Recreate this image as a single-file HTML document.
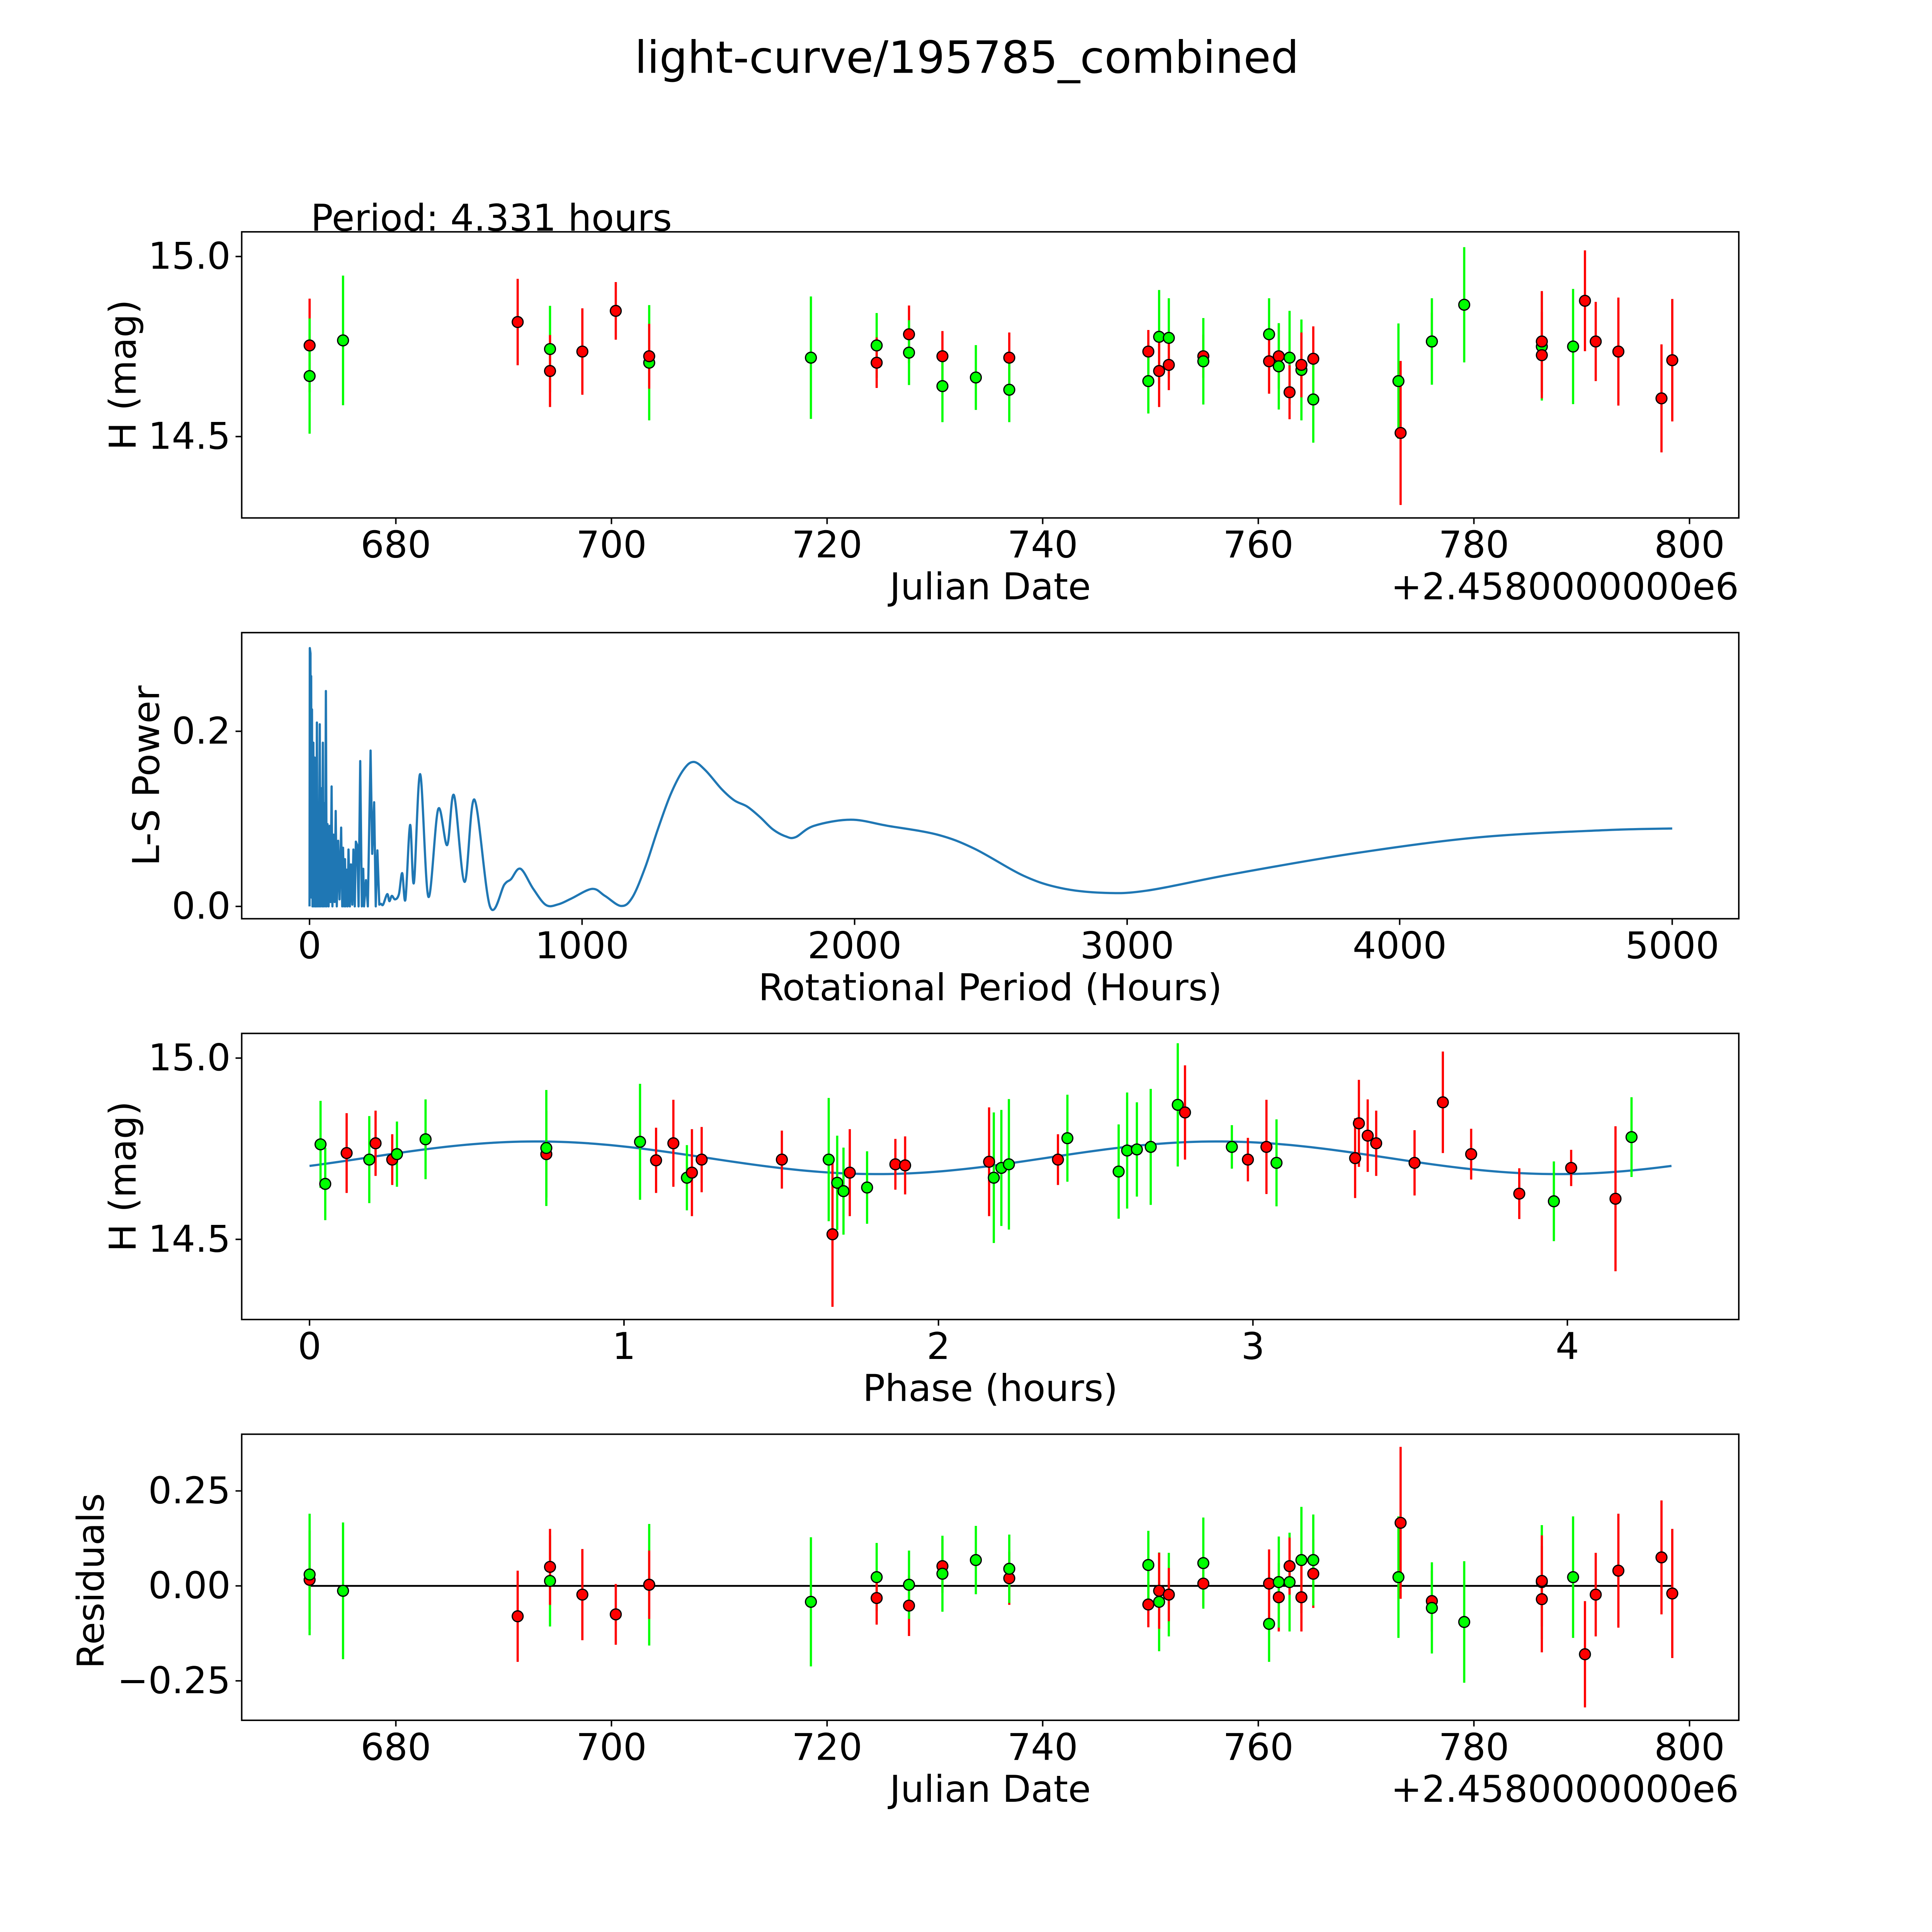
<!DOCTYPE html>
<html><head><meta charset="utf-8"><style>
html,body{margin:0;padding:0;background:#fff;overflow:hidden;width:5400px;height:5400px}
svg{display:block}
text{font-family:"DejaVu Sans","Liberation Sans",sans-serif;fill:#000}
</style></head><body>
<svg id="fig" xmlns="http://www.w3.org/2000/svg" width="5400" height="5400" viewBox="0 0 1692 1692">
<rect x="0" y="0" width="1692" height="1692" fill="#fff"/>
<text x="784" y="59" font-size="36" text-anchor="middle">light-curve/195785_combined</text>
<text x="252" y="187" font-size="30">Period: 4.331 hours</text>
<g id="p1"></g>
<g id="p2"></g>
<g id="p3"></g>
<g id="p4"></g>
</svg>
<script>
// ---- light curve data ----
const dates = [672.0,672.0,675.1,691.3,694.3,694.3,697.3,700.4,703.5,703.5,718.5,724.6,724.6,727.6,727.6,730.7,730.7,733.8,736.9,736.9,749.8,749.8,750.8,750.8,751.7,751.7,754.9,754.9,761.0,761.0,761.9,761.9,762.9,762.9,764.0,764.0,765.1,765.1,773.0,773.2,776.1,776.1,779.1,786.3,786.3,786.3,789.2,790.3,791.3,793.4,797.4,798.4];
const mags = [14.753,14.668,14.767,14.818,14.743,14.682,14.736,14.849,14.705,14.723,14.719,14.753,14.705,14.784,14.733,14.723,14.640,14.664,14.719,14.630,14.736,14.654,14.777,14.682,14.774,14.699,14.723,14.709,14.784,14.709,14.723,14.695,14.719,14.623,14.685,14.699,14.716,14.603,14.654,14.510,14.764,14.764,14.866,14.750,14.726,14.764,14.750,14.877,14.764,14.736,14.606,14.712];
const errs = [0.13,0.16,0.18,0.12,0.12,0.10,0.12,0.08,0.16,0.09,0.17,0.09,0.07,0.08,0.09,0.07,0.10,0.09,0.07,0.09,0.06,0.09,0.13,0.10,0.11,0.07,0.06,0.12,0.10,0.09,0.09,0.12,0.13,0.075,0.14,0.09,0.09,0.12,0.16,0.20,0.08,0.12,0.16,0.15,0.12,0.14,0.16,0.14,0.11,0.15,0.15,0.17];
const colors = ['r','g','g','r','g','r','r','r','g','r','g','g','r','r','g','r','g','g','r','g','r','g','g','r','g','r','r','g','g','r','r','g','g','r','g','r','r','g','g','r','r','g','g','g','r','r','g','r','r','r','r','r'];
const residuals = [0.016,0.03,-0.013,-0.08,0.013,0.05,-0.023,-0.075,0.003,0.003,-0.042,0.023,-0.032,-0.052,0.003,0.052,0.032,0.068,0.02,0.045,-0.049,0.055,-0.042,-0.013,-0.023,-0.023,0.006,0.06,-0.1,0.006,-0.03,0.01,0.01,0.052,0.068,-0.03,0.032,0.068,0.023,0.166,-0.04,-0.058,-0.095,0.01,0.013,-0.035,0.023,-0.18,-0.023,0.04,0.075,-0.02];
// ---- phase-folded data ----
const phases = [0.035,0.05,0.118,0.19,0.21,0.263,0.278,0.369,0.753,0.753,1.051,1.102,1.157,1.2,1.216,1.247,1.502,1.651,1.663,1.678,1.698,1.718,1.773,1.863,1.894,2.161,2.176,2.2,2.224,2.38,2.41,2.573,2.6,2.631,2.675,2.761,2.784,2.933,2.984,3.043,3.075,3.325,3.337,3.365,3.392,3.514,3.604,3.694,3.847,3.957,4.012,4.153,4.204];
const phaseMags = [14.762,14.653,14.738,14.72,14.765,14.72,14.735,14.776,14.735,14.752,14.769,14.718,14.765,14.67,14.684,14.72,14.72,14.72,14.514,14.656,14.633,14.684,14.643,14.707,14.704,14.714,14.67,14.697,14.707,14.72,14.779,14.687,14.745,14.748,14.755,14.871,14.85,14.755,14.72,14.755,14.711,14.724,14.82,14.786,14.765,14.711,14.878,14.735,14.626,14.605,14.697,14.612,14.782];
const phaseErrs = [0.12,0.10,0.11,0.12,0.09,0.07,0.09,0.11,0.12,0.16,0.16,0.09,0.12,0.09,0.12,0.09,0.08,0.17,0.2,0.13,0.12,0.12,0.10,0.07,0.08,0.15,0.18,0.16,0.18,0.07,0.12,0.13,0.16,0.13,0.16,0.17,0.13,0.06,0.06,0.13,0.12,0.11,0.12,0.10,0.09,0.09,0.14,0.07,0.07,0.11,0.05,0.2,0.11];
const phaseColors = ['g','g','r','g','r','r','g','g','r','g','g','r','r','g','r','r','r','g','r','g','g','r','g','r','r','r','g','g','g','r','g','g','g','g','g','g','r','g','r','r','g','r','r','r','r','r','r','r','r','g','r','r','g'];
const modelParams = [14.725, 0.045, 0.18, 2.1655]; // mean, amplitude, phase offset, half period
// ---- periodogram data ----
const lsPeriods = [
 0,1,3.5,5,6,7.5,9,11,14,16,
 19,21,23,25,27,30,33,35,37.5,40,
 43,46,49,51,54,57,60,63,66,70,
 74,77,81,84,88,92,96,100,105,110,
 116,120,123,127,130,133,136,140,143,148,
 152,157,161,166,170,175,180,186,192,197,
 200,207,214,224,230,237,243,249,256,262,
 270,285,293,302,314,328,340,352,369,383,406,
 436,472,505,530,569,605,662,715,739,774,
 821,868,914,961,1037,1084,1143,1184,1231,1278,
 1325,1372,1410,1454,1512,1559,1606,1653,1700,1747,
 1783,1851,1986,2122,2303,2439,2620,2756,2914,3072,
 3389,3842,4294,4747,5000];
const lsPowers = [
 0,0.295,0.289,0.02,0.263,0.01,0.225,0,0.187,0,
 0.17,0,0.115,0,0.21,0,0.118,0,0.208,0,
 0.135,0,0.187,0,0.118,0,0.246,0,0.094,0,
 0.092,0.005,0.137,0,0.082,0.005,0.109,0,0.075,0.008,
 0.09,0,0.067,0,0.054,0,0.042,0,0.065,0,
 0.048,0.002,0.065,0,0.074,0.07,0,0.166,0,0.043,
 0,0.03,0,0.178,0.06,0.119,0,0.064,0.002,0.003,
 0.002,0.014,0.006,0.012,0.008,0.014,0.038,0.008,0.093,0.027,0.151,
 0.011,0.111,0.07,0.127,0.028,0.122,0,0.025,0.031,0.043,
 0.02,0.0015,0.0025,0.009,0.02,0.012,0.0005,0.01,0.044,0.088,
 0.128,0.156,0.165,0.155,0.134,0.121,0.114,0.102,0.088,0.08,
 0.079,0.092,0.099,0.092,0.082,0.066,0.035,0.021,0.0155,0.018,
 0.037,0.061,0.079,0.087,0.089];

const NS='http://www.w3.org/2000/svg';
function mk(parent, tag, attrs){const e=document.createElementNS(NS,tag);for(const k in attrs)e.setAttribute(k,attrs[k]);parent.appendChild(e);return e;}
const COL={r:'#ff0000',g:'#00ff00'};
const X0=196,X1=1410,FS=30;
function axisFrame(g,top,bot){
  const r=mk(g,'rect',{x:X0,y:top,width:X1-X0,height:bot-top,fill:'none',stroke:'#000','stroke-width':1.2});
  
  
}
function xTicks(g,bot,vals,fx,labels){
  vals.forEach((v,i)=>{const x=fx(v);
    const t=mk(g,'line',{x1:x,x2:x,y1:bot,y2:bot+5,stroke:'#000','stroke-width':1.2});
    
    
    const l=mk(g,'text',{x:x,y:bot+32,'font-size':FS,'text-anchor':'middle'});l.textContent=labels[i];
    
    });
}
function yTicks(g,vals,fy,labels){
  vals.forEach((v,i)=>{const y=fy(v);
    const t=mk(g,'line',{x1:X0-5,x2:X0,y1:y,y2:y,stroke:'#000','stroke-width':1.2});
    
    
    const l=mk(g,'text',{x:X0-9,y:y+10,'font-size':FS,'text-anchor':'end'});l.textContent=labels[i];
    
    });
}
function label(g,txt,x,y,rot,name){
  const l=mk(g,'text',{x:x,y:y,'font-size':FS,'text-anchor':'middle'});
  if(rot)l.setAttribute('transform','rotate(-90 '+x+' '+y+')');
  l.textContent=txt;
  
  
}
function points(g,xs,ys,es,cs,fx,fy,fe){
  xs.forEach((v,i)=>{const x=fx(v),y=fy(ys[i]);const e=fe(es[i]);
    const b=mk(g,'line',{x1:x,x2:x,y1:y-e,y2:y+e,stroke:COL[cs[i]],'stroke-width':1.8});
    
    });
  xs.forEach((v,i)=>{const x=fx(v),y=fy(ys[i]);
    const c=mk(g,'circle',{cx:x,cy:y,r:4.4,fill:COL[cs[i]],stroke:'#000','stroke-width':1});
    
    });
}
const fxDate=d=>321+(d-680)*8.742;
// Panel 1
(function(){const g=document.getElementById('p1');const top=188,bot=420;
 const fy=m=>208+(15-m)*292;
 axisFrame(g,top,bot);
 xTicks(g,bot,[680,700,720,740,760,780,800],fxDate,['680','700','720','740','760','780','800']);
 yTicks(g,[15.0,14.5],fy,['15.0','14.5']);
 points(g,dates,mags,errs,colors,fxDate,fy,e=>e*292);
 label(g,'Julian Date',803,486,false,'x-axis-title');
 const o=mk(g,'text',{x:1410,y:486,'font-size':FS,'text-anchor':'end'});o.textContent='+2.4580000000e6';
 
 
 label(g,'H (mag)',110,304,true,'y-axis-title');
})();
// Panel 2
(function(){const g=document.getElementById('p2');const top=513,bot=745;
 const fx=p=>251+p*0.221, fy=v=>735-v*710;
 axisFrame(g,top,bot);
 xTicks(g,bot,[0,1000,2000,3000,4000,5000],fx,['0','1000','2000','3000','4000','5000']);
 yTicks(g,[0,0.2],fy,['0.0','0.2']);
 const n=Math.min(lsPeriods.length,lsPowers.length);
 const P=[];for(let i=0;i<n;i++)P.push([fx(lsPeriods[i]),fy(lsPowers[i])]);
 let d='M'+P[0][0].toFixed(2)+','+P[0][1].toFixed(2);
 for(let i=1;i<n;i++){
   if(lsPeriods[i]<270){d+=' L'+P[i][0].toFixed(2)+','+P[i][1].toFixed(2);continue;}
   const p0=P[i-2]||P[i-1],p1=P[i-1],p2=P[i],p3=P[i+1]||P[i];
   const c1=[p1[0]+(p2[0]-p0[0])/6,p1[1]+(p2[1]-p0[1])/6];
   const c2=[p2[0]-(p3[0]-p1[0])/6,p2[1]-(p3[1]-p1[1])/6];
   d+=' C'+c1[0].toFixed(2)+','+c1[1].toFixed(2)+' '+c2[0].toFixed(2)+','+c2[1].toFixed(2)+' '+p2[0].toFixed(2)+','+p2[1].toFixed(2);
 }
 const l=mk(g,'path',{d:d,fill:'none',stroke:'#1f77b4','stroke-width':1.8,'stroke-linejoin':'round'});
 
 
 label(g,'Rotational Period (Hours)',803,811,false,'x-axis-title');
 label(g,'L-S Power',129,629,true,'y-axis-title');
})();
// Panel 3
(function(){const g=document.getElementById('p3');const top=838,bot=1070;
 const fx=p=>251+p*255, fy=m=>858+(15-m)*294;
 axisFrame(g,top,bot);
 xTicks(g,bot,[0,1,2,3,4],fx,['0','1','2','3','4']);
 yTicks(g,[15.0,14.5],fy,['15.0','14.5']);
 const [mu,amp,off,hp]=modelParams;const pts=[];
 for(let k=0;k<=200;k++){const p=4.331*k/200;pts.push(fx(p).toFixed(2)+','+fy(mu+amp*Math.sin(2*Math.PI*(p-off)/hp)).toFixed(2));}
 const l=mk(g,'polyline',{points:pts.join(' '),fill:'none',stroke:'#1f77b4','stroke-width':1.8});
 
 
 points(g,phases,phaseMags,phaseErrs,phaseColors,fx,fy,e=>e*294);
 label(g,'Phase (hours)',803,1136,false,'x-axis-title');
 label(g,'H (mag)',110,954,true,'y-axis-title');
})();
// Panel 4
(function(){const g=document.getElementById('p4');const top=1163,bot=1395;
 const fy=r=>1286-r*308;
 axisFrame(g,top,bot);
 xTicks(g,bot,[680,700,720,740,760,780,800],fxDate,['680','700','720','740','760','780','800']);
 yTicks(g,[0.25,0,-0.25],fy,['0.25','0.00','\u22120.25']);
 const z=mk(g,'line',{x1:fxDate(Math.min(...dates)),x2:fxDate(Math.max(...dates)),y1:fy(0),y2:fy(0),stroke:'#000','stroke-width':1.5});
 
 
 points(g,dates,residuals,errs,colors,fxDate,fy,e=>e*308);
 label(g,'Julian Date',803,1461,false,'x-axis-title');
 const o=mk(g,'text',{x:1410,y:1461,'font-size':FS,'text-anchor':'end'});o.textContent='+2.4580000000e6';
 
 
 label(g,'Residuals',84,1282,true,'y-axis-title');
})();
</script>
</body></html>
